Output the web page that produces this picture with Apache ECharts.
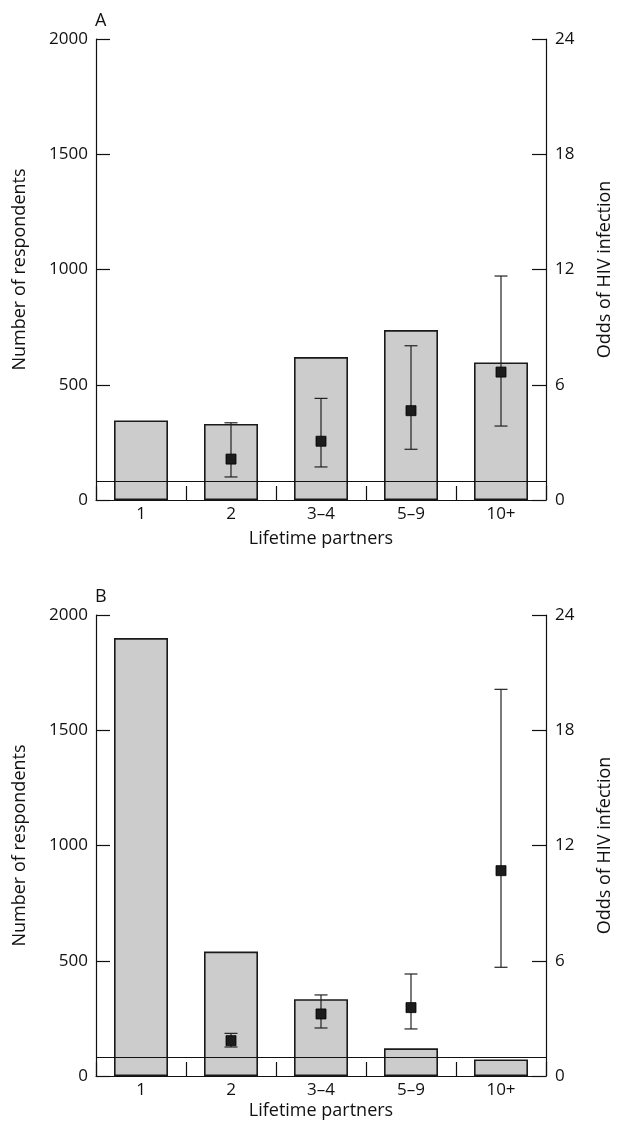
<!DOCTYPE html>
<html>
<head>
<meta charset="utf-8">
<script src="https://cdn.jsdelivr.net/npm/echarts@6/dist/echarts.min.js"></script>
<style>
html,body{margin:0;padding:0;background:#fff;}
#chart{width:617px;height:1129px;}
</style>
</head>
<body>
<div id="chart"></div>
<script>
var categories = ['1', '2', '3\u20134', '5\u20139', '10+'];
var leftTicks = [0, 500, 1000, 1500, 2000];
var rightTicks = [0, 6, 12, 18, 24];

var respondentsA = [345, 330, 620, 737, 597];
var oddsA  = [null, 2.13, 3.06, 4.65, 6.66];
var lowerA = [null, 1.20, 1.72, 2.64, 3.85];
var upperA = [null, 4.02, 5.29, 8.03, 11.66];

var respondentsB = [1900, 540, 333, 120, 72];
var oddsB  = [null, 1.84, 3.23, 3.56, 10.69];
var lowerB = [null, 1.51, 2.50, 2.45, 5.66];
var upperB = [null, 2.22, 4.22, 5.31, 20.13];

var referenceOdds = 1;

var FONT = '"Open Sans"';
var FS = 17;
var NFS = 18;
var INK = '#111';

function errData(odds, lower, upper) {
  var out = [];
  for (var i = 0; i < odds.length; i++) {
    if (odds[i] != null) out.push([i, odds[i], lower[i], upper[i]]);
  }
  return out;
}

function renderErr(params, api) {
  var x = api.value(0);
  var pm = api.coord([x, api.value(1)]);
  var pl = api.coord([x, api.value(2)]);
  var pu = api.coord([x, api.value(3)]);
  var cap = 6.5, sq = 10;
  var ls = {stroke: '#222', lineWidth: 1.2};
  return {
    type: 'group',
    children: [
      {type: 'line', shape: {x1: pm[0], y1: pl[1], x2: pm[0], y2: pu[1]}, style: ls},
      {type: 'line', shape: {x1: pm[0] - cap, y1: pu[1], x2: pm[0] + cap, y2: pu[1]}, style: ls},
      {type: 'line', shape: {x1: pm[0] - cap, y1: pl[1], x2: pm[0] + cap, y2: pl[1]}, style: ls},
      {type: 'rect', shape: {x: pm[0] - sq / 2, y: pm[1] - sq / 2, width: sq, height: sq},
       style: {fill: '#1c1c1c', stroke: '#000', lineWidth: 0.8}}
    ]
  };
}

var axisLine = {show: true, lineStyle: {color: INK, width: 1.2}};
function plain(v) { return String(v); }
var lbl = {color: INK, fontFamily: FONT, fontSize: FS, formatter: plain};
var nameStyle = {color: INK, fontFamily: FONT, fontSize: NFS};

function xAxis(gi, nameGap) {
  return {
    type: 'category', gridIndex: gi, data: categories, boundaryGap: true,
    axisLine: axisLine,
    axisTick: {show: true, inside: true, length: 14, lineStyle: {color: INK, width: 1.2}},
    axisLabel: {color: INK, fontFamily: FONT, fontSize: FS, margin: 6},
    name: 'Lifetime partners', nameLocation: 'middle', nameGap: nameGap,
    nameTextStyle: nameStyle
  };
}
function yLeft(gi) {
  return {
    type: 'value', gridIndex: gi, position: 'left', min: leftTicks[0], max: leftTicks[leftTicks.length - 1], interval: 500,
    axisLine: axisLine,
    axisTick: {show: true, inside: true, length: 14, lineStyle: {color: INK, width: 1.2}},
    axisLabel: Object.assign({margin: 8}, lbl),
    splitLine: {show: false},
    name: 'Number of respondents', nameLocation: 'middle', nameGap: 67, nameRotate: 90,
    nameTextStyle: nameStyle
  };
}
function yRight(gi) {
  return {
    type: 'value', gridIndex: gi, position: 'right', min: rightTicks[0], max: rightTicks[rightTicks.length - 1], interval: 6,
    axisLine: axisLine,
    axisTick: {show: true, inside: true, length: 14, lineStyle: {color: INK, width: 1.2}},
    axisLabel: Object.assign({margin: 9}, lbl),
    splitLine: {show: false},
    name: 'Odds of HIV infection', nameLocation: 'middle', nameGap: 50, nameRotate: 90,
    nameTextStyle: nameStyle
  };
}

function barSeries(xi, yi, data) {
  return {
    type: 'bar', xAxisIndex: xi, yAxisIndex: yi, data: data, barWidth: 54,
    itemStyle: {color: '#cccccc', borderColor: '#1a1a1a', borderWidth: 1.6},
    silent: true, animation: false, z: 2
  };
}
function refSeries(xi, yi) {
  return {
    type: 'line', xAxisIndex: xi, yAxisIndex: yi, data: [], silent: true, animation: false,
    markLine: {
      silent: true, symbol: 'none', animation: false,
      label: {show: false},
      lineStyle: {color: INK, width: 1.2, type: 'solid'},
      data: [{yAxis: referenceOdds}]
    },
    z: 5
  };
}
function errSeries(xi, yi, data) {
  return {
    type: 'custom', xAxisIndex: xi, yAxisIndex: yi, data: data, renderItem: renderErr,
    encode: {x: 0, y: [1, 2, 3]}, silent: true, animation: false, z: 6
  };
}

var option = {
  animation: false,
  backgroundColor: '#fff',
  grid: [
    {left: 96, right: 71, top: 39, height: 461, containLabel: false, outerBoundsMode: 'none'},
    {left: 96, right: 71, top: 615, height: 461, containLabel: false, outerBoundsMode: 'none'}
  ],
  xAxis: [xAxis(0, 30), xAxis(1, 26)],
  yAxis: [yLeft(0), yRight(0), yLeft(1), yRight(1)],
  graphic: [
    {type: 'text', left: 95, top: 12, style: {text: 'A', fontFamily: FONT, fontSize: 18, fill: INK}},
    {type: 'text', left: 95, top: 588, style: {text: 'B', fontFamily: FONT, fontSize: 18, fill: INK}}
  ],
  series: [
    barSeries(0, 0, respondentsA),
    refSeries(0, 1),
    errSeries(0, 1, errData(oddsA, lowerA, upperA)),
    barSeries(1, 2, respondentsB),
    refSeries(1, 3),
    errSeries(1, 3, errData(oddsB, lowerB, upperB))
  ]
};

var chart = echarts.init(document.getElementById('chart'), null, {renderer: 'canvas'});
chart.setOption(option);
</script>
</body>
</html>
